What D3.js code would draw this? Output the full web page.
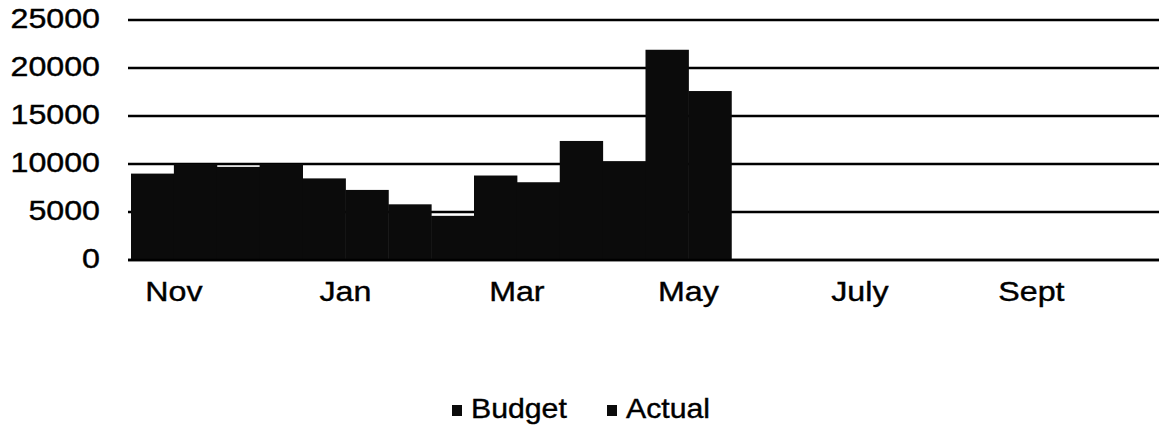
<!DOCTYPE html>
<html>
<head>
<meta charset="utf-8">
<script src="https://cdn.jsdelivr.net/npm/d3@7"></script>
<style>
  body { margin: 0; background: #fff; }
  text { font-family: "Liberation Sans", Arial, sans-serif; font-size: 28px; fill: #000; stroke: #000; stroke-width: 0.4px; }
</style>
</head>
<body>
<svg id="svg" width="1159" height="430"></svg>
<script>
// data
const months = ["Nov", "Dec", "Jan", "Feb", "Mar", "Apr", "May", "Jun", "July", "Aug", "Sept", "Oct"];
const seriesNames = ["Budget", "Actual"];
const budget = [9000, 9700, 8500, 5800, 8800, 12400, 21900];
const actual = [10000, 10000, 7300, 4600, 8100, 10300, 17600];
const yTicks = [0, 5000, 10000, 15000, 20000, 25000];
const shownMonths = ["Nov", "Jan", "Mar", "May", "July", "Sept"];

let svg = d3.select("#svg");

let x = d3.scaleBand().domain(months).range([131, 1160]).padding(0);
let xs = d3.scaleBand().domain(seriesNames).range([0, x.bandwidth()]).padding(0);
let y = d3.scaleLinear().domain([0, 25000]).range([260, 20]);
let color = d3.scaleOrdinal().domain(seriesNames).range(["#0b0b0b", "#0b0b0b"]);

// grid lines first, bars cover them
svg.append("g").selectAll("line").data(yTicks).join("line")
    .attr("x1", 128).attr("x2", 1159)
    .attr("y1", d => y(d)).attr("y2", d => y(d))
    .attr("stroke", "#000").attr("stroke-width", 2.5);

// y labels
svg.append("g").selectAll("text").data(yTicks).join("text")
    .attr("transform", d => "translate(100," + (y(d) + 8) + ") scale(1.15,1)")
    .attr("text-anchor", "end")
    .text(d => d);

// bars
let rows = budget.map((b, i) => ({ month: months[i], Budget: b, Actual: actual[i] }));
let groups = svg.append("g").selectAll("g").data(rows).join("g")
    .attr("transform", d => "translate(" + x(d.month) + ",0)");
groups.selectAll("rect")
    .data(d => seriesNames.map(s => ({ key: s, value: d[s] })))
    .join("rect")
    .attr("x", d => xs(d.key))
    .attr("y", d => y(d.value))
    .attr("width", xs.bandwidth() + 0.5)
    .attr("height", d => y(0) - y(d.value))
    .attr("fill", d => color(d.key));

// baseline on top
svg.append("line")
    .attr("x1", 128).attr("x2", 1159)
    .attr("y1", y(0)).attr("y2", y(0))
    .attr("stroke", "#000").attr("stroke-width", 2.5);

// month labels, every other one
svg.append("g").selectAll("text").data(shownMonths).join("text")
    .attr("transform", d => "translate(" + (x(d) + x.bandwidth() / 2) + ",301) scale(1.15,1)")
    .attr("text-anchor", "middle")
    .text(d => d);

// legend
let legend = svg.append("g").selectAll("g").data(seriesNames).join("g")
    .attr("transform", (d, i) => "translate(" + (452 + i * 155) + ",0)");
legend.append("rect")
    .attr("x", 0).attr("y", 405).attr("width", 10).attr("height", 11)
    .attr("fill", d => color(d));
legend.append("text")
    .attr("transform", "translate(19,418) scale(1.08,1)")
    .text(d => d);
</script>
</body>
</html>
